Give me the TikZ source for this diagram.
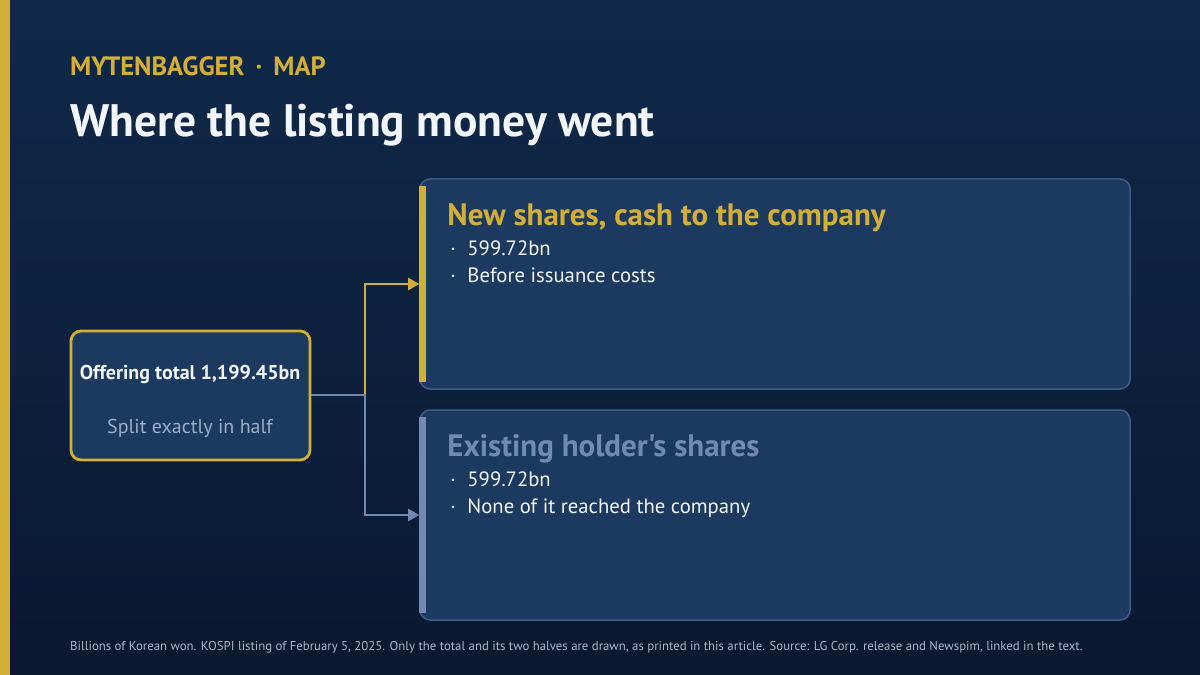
\documentclass[tikz,border=0pt]{standalone}
\usepackage{fontspec}
\setmainfont{PT Sans}[Ligatures=TeXOff]
\usetikzlibrary{calc}
\usetikzlibrary{arrows.meta}

\definecolor{bgtop}{HTML}{10294A}
\definecolor{bgbot}{HTML}{0A1830}
\definecolor{gold}{HTML}{D4AF37}
\definecolor{boxfill}{HTML}{1C3A5F}
\definecolor{boxline}{HTML}{3D5C88}
\definecolor{steel}{HTML}{7289B0}
\definecolor{pale}{HTML}{F2F5FA}
\definecolor{muted}{HTML}{9DAEC8}
\definecolor{foot}{HTML}{A9B5C8}

\newcommand{\bul}[1]{\makebox[20bp][l]{\hspace{3bp}·}#1}

\tikzset{
  card/.style={draw=boxline, line width=1.5bp, fill=boxfill, rounded corners=10bp,
    minimum width=710bp, minimum height=210bp, inner sep=0pt},
  cardhead/.style={anchor=base west, inner sep=0pt, font=\bfseries\fontsize{31bp}{34bp}\selectfont},
  cardline/.style={anchor=base west, inner sep=0pt, text=pale, font=\fontsize{20.7bp}{24bp}\selectfont},
  link/.style={line width=2.5bp},
  tip/.style={-{Triangle[length=11bp,width=12bp]}}
}

\begin{document}
\begin{tikzpicture}[x=1bp, y=-1bp]

\useasboundingbox (0,0) rectangle (1200,675);
\shade[top color=bgtop, bottom color=bgbot] (0,0) rectangle (1200,675);
\fill[gold] (0,0) rectangle (10,675);

% heading
\node[anchor=base west, inner sep=0pt, text=gold, font=\bfseries\fontsize{26.5bp}{30bp}\selectfont] (kicker) at (70,76) {MYTENBAGGER \,·\, MAP};
\node[anchor=base west, inner sep=0pt, text=pale, font=\bfseries\fontsize{45.5bp}{50bp}\selectfont] (title) at (70,137) {Where the listing money went};

% source box
\node[draw=gold, line width=2.8bp, fill=boxfill, rounded corners=10bp, minimum width=239bp, minimum height=129bp] (offer) at (190.5,395.5) {};
\node[anchor=base, inner sep=0pt, text=pale, font=\bfseries\fontsize{20bp}{23bp}\selectfont] (offertotal) at (190,379) {Offering total 1,199.45bn};
\node[anchor=base, inner sep=0pt, text=muted, font=\fontsize{20bp}{24bp}\selectfont] (offersplit) at (190,433) {Split exactly in half};

% the two halves
\node[card] (newcard) at (775,284) {};
\fill[gold] ($(newcard.north west)+(0,8)$) rectangle ($(newcard.south west)+(7,-8)$);
\node[cardhead, text=gold] (newhead) at ($(newcard.north west)+(28,47)$) {New shares, cash to the company};
\node[cardline] (newamt) at ($(newcard.north west)+(28,77)$) {\bul{599.72bn}};
\node[cardline] (newnote) at ($(newcard.north west)+(28,104)$) {\bul{Before issuance costs}};

\node[card] (oldcard) at (775,515) {};
\fill[steel] ($(oldcard.north west)+(0,8)$) rectangle ($(oldcard.south west)+(7,-8)$);
\node[cardhead, text=steel] (oldhead) at ($(oldcard.north west)+(28,47)$) {Existing holder's shares};
\node[cardline] (oldamt) at ($(oldcard.north west)+(28,77)$) {\bul{599.72bn}};
\node[cardline] (oldnote) at ($(oldcard.north west)+(28,104)$) {\bul{None of it reached the company}};

% connectors
\coordinate (split) at (365,395);
\draw[link, gold, tip] (split) |- (newcard.west);
\draw[link, steel, tip] (offer.east |- split) -- (split) |- (oldcard.west);

% footer
\node[anchor=base west, inner sep=0pt, text=foot, font=\fontsize{12.8bp}{14bp}\selectfont] (note) at (70,650) {Billions of Korean won. KOSPI listing of February 5, 2025. Only the total and its two halves are drawn, as printed in this article. Source: LG Corp. release and Newspim, linked in the text.};

\end{tikzpicture}
\end{document}
